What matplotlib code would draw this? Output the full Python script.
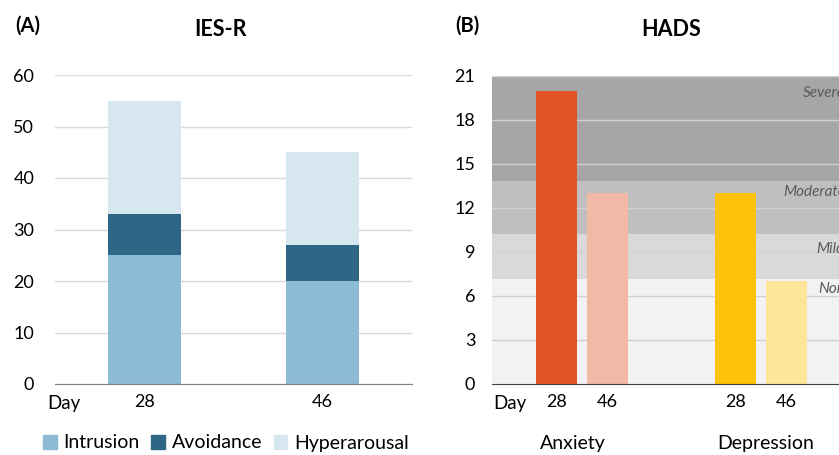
import matplotlib
matplotlib.use('Agg')
import matplotlib.pyplot as plt
from matplotlib.patches import Patch

plt.rcParams['font.family'] = ['Lato', 'DejaVu Sans']

# IES-R (A)
ies_days = ['28', '46']
intrusion = [25, 20]
avoidance = [8, 7]
hyperarousal = [22, 18]

# HADS (B)
hads_groups = ['Anxiety', 'Depression']
hads_days = ['28', '46']
anxiety = [20, 13]
depression = [13, 7]
band_edges = [0, 7.15, 10.2, 13.85, 21]
band_names = ['Normal', 'Mild', 'Moderate', 'Severe']


def main():
    W, H = 839, 455
    fig = plt.figure(figsize=(W / 100, H / 100), dpi=100)

    def px(x0, y0, x1, y1):
        # pixel box -> figure fraction [left, bottom, width, height]
        return [x0 / W, 1 - y1 / H, (x1 - x0) / W, (y1 - y0) / H]

    fs = 13.5

    # ---------- panel A ----------
    ax1 = fig.add_axes(px(55, 75, 412, 384))
    x = range(len(ies_days))
    bw = 0.41
    ax1.bar(x, intrusion, bw, color='#8DBAD5', zorder=2, label='Intrusion')
    ax1.bar(x, avoidance, bw, bottom=intrusion, color='#2E6685', zorder=2, label='Avoidance')
    base2 = [a + b for a, b in zip(intrusion, avoidance)]
    ax1.bar(x, hyperarousal, bw, bottom=base2, color='#D6E7F0', zorder=2, label='Hyperarousal')
    ax1.set_xlim(-0.5, 1.5)
    ax1.set_ylim(0, 60)
    ax1.set_yticks(range(0, 61, 10))
    ax1.set_xticks(list(x))
    ax1.set_xticklabels(ies_days)
    ax1.yaxis.grid(True, color='#D9D9D9', lw=1, zorder=0)
    ax1.set_axisbelow(True)
    for s in ['top', 'right', 'left']:
        ax1.spines[s].set_visible(False)
    ax1.spines['bottom'].set_color('#7F7F7F')
    ax1.tick_params(length=0, labelsize=13)
    ax1.tick_params(axis='y', pad=15)
    ax1.tick_params(axis='x', pad=7)
    fig.text(47 / W, 1 - 404 / H, 'Day', fontsize=fs, ha='left', va='center')
    fig.text(220 / W, 1 - 29 / H, 'IES-R', fontsize=15.5, fontweight='bold', ha='center', va='center')
    fig.text(28 / W, 1 - 26 / H, '(A)', fontsize=14.5, fontweight='bold', ha='center', va='center')

    handles = [Patch(color='#8DBAD5'), Patch(color='#2E6685'), Patch(color='#D6E7F0')]
    fig.legend(handles, ['Intrusion', 'Avoidance', 'Hyperarousal'], ncol=3, frameon=False,
               loc='center', bbox_to_anchor=(226 / W, 1 - 443 / H), fontsize=fs + 0.5,
               handlelength=0.7, handleheight=0.7, handletextpad=0.35, columnspacing=0.6)

    # ---------- panel B ----------
    ax2 = fig.add_axes(px(492, 76, 851, 384))
    band_colors = ['#F2F2F2', '#D9D9D9', '#BFBFBF', '#A6A6A6']
    for i in range(len(band_names)):
        ax2.axhspan(band_edges[i], band_edges[i + 1], color=band_colors[i], zorder=0, lw=0)
    for yv in range(3, 22, 3):
        ax2.axhline(yv, color='#D0D0D0', lw=1, zorder=1)
    off = 0.142
    bw2 = 0.228
    ax2.bar([0 - off, 0 + off], anxiety, bw2, color=['#E05425', '#F2B9A7'], zorder=2)
    ax2.bar([1 - off, 1 + off], depression, bw2, color=['#FDC20A', '#FFE599'], zorder=2)
    ax2.set_xlim(-0.5, 1.5)
    ax2.set_ylim(0, 21)
    ax2.set_yticks(range(0, 22, 3))
    ax2.set_xticks([-off, off, 1 - off, 1 + off])
    ax2.set_xticklabels(hads_days * 2)
    for s in ['top', 'right', 'left']:
        ax2.spines[s].set_visible(False)
    ax2.spines['bottom'].set_color('#404040')
    ax2.tick_params(length=0, labelsize=13)
    ax2.tick_params(axis='y', pad=12)
    ax2.tick_params(axis='x', pad=7)
    band_lx = [1.32, 1.309, 1.12, 1.231]
    band_ly = [6.5, 9.2, 13.1, 19.84]
    for name, lx, ly in zip(band_names, band_lx, band_ly):
        ax2.text(lx, ly, name, fontsize=11, style='italic', color='#595959',
                 ha='left', va='center', zorder=3)
    fig.text(493 / W, 1 - 404 / H, 'Day', fontsize=fs, ha='left', va='center')
    fig.text(573 / W, 1 - 443 / H, hads_groups[0], fontsize=fs + 0.5, ha='center', va='center')
    fig.text(766 / W, 1 - 443 / H, hads_groups[1], fontsize=fs + 0.5, ha='center', va='center')
    fig.text(671 / W, 1 - 29 / H, 'HADS', fontsize=15.5, fontweight='bold', ha='center', va='center')
    fig.text(467 / W, 1 - 26 / H, '(B)', fontsize=14.5, fontweight='bold', ha='center', va='center')

    fig.savefig('out.png', dpi=100)


if __name__ == '__main__':
    main()
